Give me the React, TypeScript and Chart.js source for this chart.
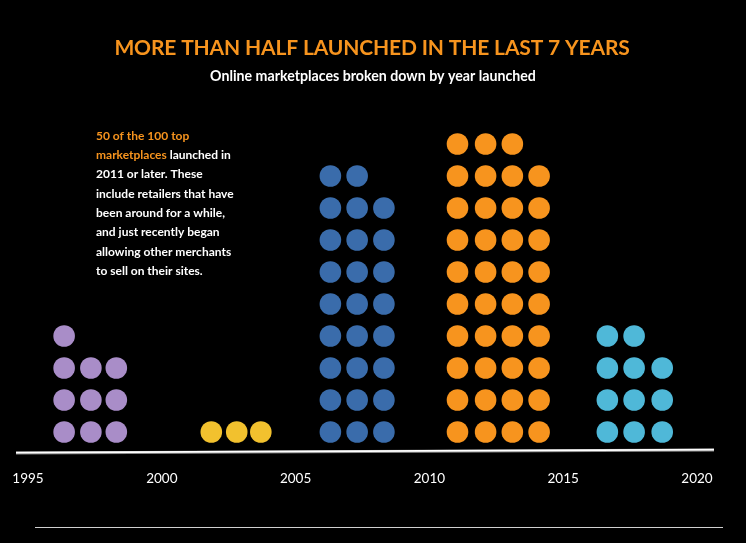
import React, { useEffect, useRef } from "react";
import { Chart, registerables } from "chart.js";

Chart.register(...registerables);

// ---- text ----
const TITLE = "MORE THAN HALF LAUNCHED IN THE LAST 7 YEARS";
const SUBTITLE = "Online marketplaces broken down by year launched";
const NOTE_ORANGE_1 = "50 of the 100 top";
const NOTE_ORANGE_2 = "marketplaces";
const NOTE_REST_2 = " launched in";
const NOTE_LINES = [
  "2011 or later. These",
  "include retailers that have",
  "been around for a while,",
  "and just recently began",
  "allowing other merchants",
  "to sell on their sites.",
];

// ---- axis ----
const X_TICKS = [1995, 2000, 2005, 2010, 2015, 2020];

// ---- series: column position (launch year) and number of dots stacked per column ----
const purpleColumns = [1996.35, 1997.35, 1998.3];
const purpleCounts = [4, 3, 3];
const yellowColumns = [2001.85, 2002.8, 2003.7];
const yellowCounts = [1, 1, 1];
const blueColumns = [2006.3, 2007.3, 2008.3];
const blueCounts = [9, 9, 8];
const orangeColumns = [2011.05, 2012.1, 2013.1, 2014.1];
const orangeCounts = [10, 10, 10, 9];
const cyanColumns = [2016.65, 2017.65, 2018.7];
const cyanCounts = [4, 4, 3];

const COLORS = {
  purple: "#a98dc8",
  yellow: "#f2c12e",
  blue: "#3a6cab",
  orange: "#f7941e",
  cyan: "#4fb8d8",
};

function dots(cols: number[], counts: number[]) {
  const pts: { x: number; y: number }[] = [];
  cols.forEach((c, i) => {
    for (let r = 0; r < counts[i]; r++) pts.push({ x: c, y: r });
  });
  return pts;
}

const decorPlugin = {
  id: "decor",
  beforeDatasetsDraw(chart: any) {
    const ctx = chart.ctx as CanvasRenderingContext2D;
    ctx.save();
    // axis baseline (slightly tilted)
    ctx.strokeStyle = "#8a8a8a";
    ctx.lineWidth = 3;
    ctx.beginPath();
    ctx.moveTo(16, 453);
    ctx.lineTo(714, 450);
    ctx.stroke();
    ctx.strokeStyle = "#ffffff";
    ctx.lineWidth = 1.6;
    ctx.beginPath();
    ctx.moveTo(16, 452.6);
    ctx.lineTo(714, 449.6);
    ctx.stroke();
    // bottom rule
    ctx.strokeStyle = "#d0d0d0";
    ctx.lineWidth = 1;
    ctx.beginPath();
    ctx.moveTo(35, 527.5);
    ctx.lineTo(723, 527.5);
    ctx.stroke();

    // title + subtitle
    ctx.textAlign = "center";
    ctx.textBaseline = "middle";
    ctx.fillStyle = "#f7941e";
    ctx.font = "bold 21px Lato";
    (ctx as any).letterSpacing = "-0.15px";
    ctx.fillText(TITLE, 372, 48);
    (ctx as any).letterSpacing = "0px";
    ctx.fillStyle = "#ffffff";
    ctx.font = "bold 14.2px Lato";
    ctx.fillText(SUBTITLE, 373, 76);

    // note
    ctx.textAlign = "left";
    ctx.font = "bold 12px Lato";
    const x0 = 96;
    const y0 = 136;
    const lh = 19.3;
    ctx.fillStyle = "#f7941e";
    ctx.fillText(NOTE_ORANGE_1, x0, y0);
    ctx.fillText(NOTE_ORANGE_2, x0, y0 + lh);
    const w = ctx.measureText(NOTE_ORANGE_2).width;
    ctx.fillStyle = "#ffffff";
    ctx.fillText(NOTE_REST_2, x0 + w, y0 + lh);
    NOTE_LINES.forEach((t, i) => ctx.fillText(t, x0, y0 + lh * (i + 2)));
    ctx.restore();
  },
};

export default function App() {
  const ref = useRef<HTMLCanvasElement>(null);
  useEffect(() => {
    document.body.style.margin = "0";
    document.body.style.background = "#000";
    const chart = new Chart(ref.current!, {
      type: "scatter",
      data: {
        datasets: [
          { data: dots(purpleColumns, purpleCounts), backgroundColor: COLORS.purple },
          { data: dots(yellowColumns, yellowCounts), backgroundColor: COLORS.yellow },
          { data: dots(blueColumns, blueCounts), backgroundColor: COLORS.blue },
          { data: dots(orangeColumns, orangeCounts), backgroundColor: COLORS.orange },
          { data: dots(cyanColumns, cyanCounts), backgroundColor: COLORS.cyan },
        ],
      },
      options: {
        responsive: false,
        animation: false,
        layout: { autoPadding: false, padding: { left: 28, right: 49, top: 128, bottom: 55 } },
        elements: {
          point: { radius: 10.8, hoverRadius: 10.8, borderWidth: 0, pointStyle: "circle" },
        },
        plugins: {
          legend: { display: false },
          tooltip: { enabled: false },
          title: { display: false },
        },
        scales: {
          x: {
            type: "linear",
            min: 1995,
            max: 2020,
            afterBuildTicks: (s: any) => {
              s.ticks = X_TICKS.map((v) => ({ value: v }));
            },
            afterFit: (s: any) => {
              s.height = 40;
            },
            grid: { display: false, drawTicks: true, tickLength: 20 },
            border: { display: false },
            ticks: {
              color: "#ffffff",
              font: { family: "Lato", size: 13.5 },
              padding: 3,
              maxRotation: 0,
              autoSkip: false,
              callback: (v: any) => String(v),
            },
          },
          y: { type: "linear", min: -0.5, max: 9.5, display: false },
        },
      },
      plugins: [decorPlugin],
    });
    return () => chart.destroy();
  }, []);
  return (
    <div style={{ position: "fixed", left: 0, top: 0, width: 746, height: 543, background: "#000" }}>
      <canvas ref={ref} width={746} height={543} style={{ display: "block" }} />
    </div>
  );
}
